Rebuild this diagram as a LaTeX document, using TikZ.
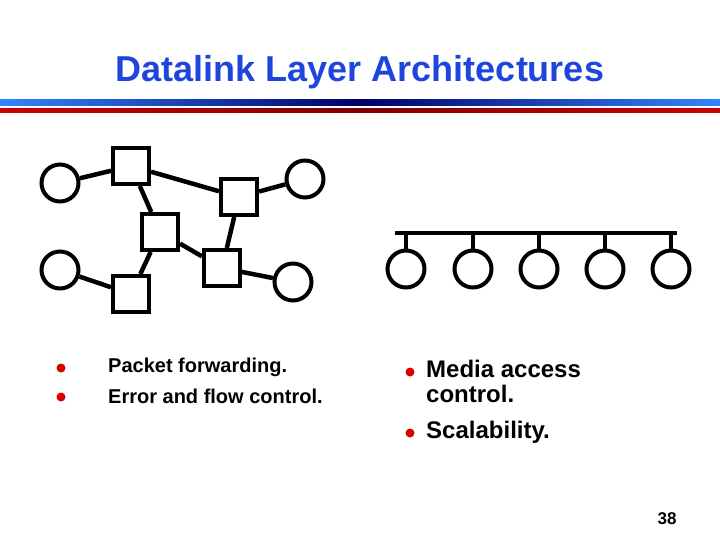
\documentclass[tikz,border=0pt]{standalone}
\usepackage{fontspec}
\setmainfont{Liberation Sans}
\definecolor{ttl}{RGB}{30,70,220}
\begin{document}
\begin{tikzpicture}[x=1pt,y=-1pt,
  net/.style={line width=4.5pt},
  host/.style={circle,draw,line width=4pt,minimum size=37pt,inner sep=0pt},
  sw/.style={rectangle,draw,line width=4pt,minimum size=36pt,inner sep=0pt},
  bul/.style={circle,fill=red!85!black,minimum size=9pt,inner sep=0pt},
  txt/.style={anchor=west,font=\bfseries,inner sep=0pt,align=left}]
\useasboundingbox (0,0) rectangle (720,540);
\node[font=\bfseries\fontsize{36}{40}\selectfont,text=ttl] (title) at (360,72) {Datalink Layer Architectures};
\shade[left color=blue!60!cyan!80!white,right color=blue!60!cyan!80!white,middle color=blue!40!black] (0,100) rectangle (720,106);
\shade[left color=red!80!black,right color=red!80!black,middle color=red!50!black] (0,109) rectangle (720,113);
% mesh
\node[host] (l1) at (60,183) {};
\node[host] (l2) at (60,270) {};
\node[host] (r1) at (305,179) {};
\node[host] (r2) at (293,282) {};
\node[sw] (a) at (131,166) {};
\node[sw] (b) at (239,197) {};
\node[sw] (c) at (160,232) {};
\node[sw] (d) at (222,268) {};
\node[sw] (e) at (131,294) {};
\foreach \u/\v in {l1/a,a/b,b/r1,a/c,b/d,c/d,c/e,l2/e,d/r2} \draw[net] (\u) -- (\v);
% bus
\coordinate (bs) at (395,233);
\coordinate (be) at (677,233);
\draw[net] (bs) -- (be);
\foreach \i/\x in {1/406,2/473,3/539,4/605,5/671}{
  \node[host] (h\i) at (\x,269) {};
  \coordinate (t\i) at (\x,233);
  \draw[net] (t\i) -- (h\i.north);
}
% bullets
\node[bul] (b1) at (61,368) {};
\node[txt,font=\bfseries\fontsize{20}{22}\selectfont] (p1) at (108,367) {Packet forwarding.};
\node[bul] (b2) at (61,397) {};
\node[txt,font=\bfseries\fontsize{20}{22}\selectfont] (p2) at (108,396) {Error and flow control.};
\node[bul] (b3) at (410,372) {};
\node[txt,font=\bfseries\fontsize{24}{25}\selectfont,anchor=north west] (p3) at (426,360) {Media access\\control.};
\node[bul] (b4) at (410,433) {};
\node[txt,font=\bfseries\fontsize{24}{26}\selectfont] (p4) at (426,432) {Scalability.};
\node[font=\bfseries\fontsize{17}{20}\selectfont] (pg) at (667,519) {38};
\end{tikzpicture}
\end{document}
